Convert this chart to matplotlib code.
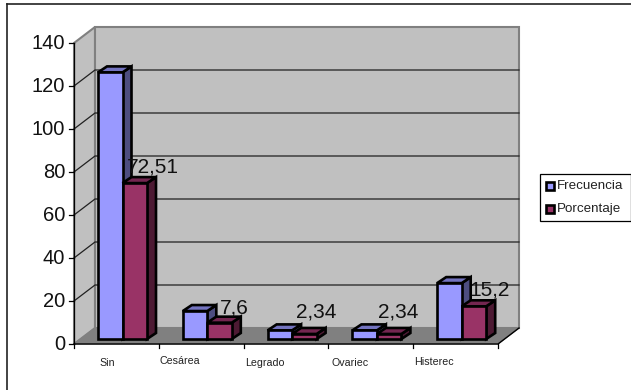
import matplotlib
matplotlib.use('Agg')
import matplotlib.pyplot as plt
from matplotlib.patches import Polygon, Rectangle

plt.rcParams['font.family'] = ['Liberation Sans', 'DejaVu Sans']

categories = ['Sin', 'Cesárea', 'Legrado', 'Ovariec', 'Histerec']
frecuencia = [124, 13, 4, 4, 26]
porcentaje = [72.51, 7.6, 2.34, 2.34, 15.2]
etiquetas = ['72,51', '7,6', '2,34', '2,34', '15,2']
yticks = [0, 20, 40, 60, 80, 100, 120, 140]

W, H = 631, 390
fig = plt.figure(figsize=(W / 100, H / 100), dpi=100)
ax = fig.add_axes([74 / W, 1 - 344 / H, 424 / W, 301 / H])
ax.set_xlim(0, 5)
ax.set_ylim(0, 140)
ax.axis('off')

# pixel sizes turned into data units
px = 5 / 424
py = 140 / 301
DX, DY = 21 * px, 16 * py   # depth of the whole chart box
bx, by = 9 * px, 6 * py     # depth of a bar
off_x, off_y = 24 * px, 5 * py
bar_w = 24.5 * px


def poly(pts, fc, ec='black', lw=0.8, z=1):
    ax.add_patch(Polygon(pts, closed=True, facecolor=fc, edgecolor=ec, linewidth=lw,
                         zorder=z, clip_on=False, joinstyle='miter'))


# walls and floor
poly([(0, 0), (DX, DY), (DX, 140 + DY), (0, 140)], '#c0c0c0', '#808080', 1.5)
poly([(DX, DY), (5 + DX, DY), (5 + DX, 140 + DY), (DX, 140 + DY)], '#c0c0c0', '#808080', 1.5)
poly([(0, 0), (DX, DY), (5 + DX, DY), (5, 0)], '#808080', '#808080', 0.8)

# gridlines
for v in yticks[1:-1]:
    ax.plot([0, DX, 5 + DX], [v, v + DY, v + DY], color='#202020', lw=0.9, zorder=2, clip_on=False)

# axes and ticks
ax.plot([0, 0], [0, 140], color='black', lw=0.9, zorder=2, clip_on=False)
ax.plot([0, 5, 5 + DX], [0, 0, DY], color='black', lw=1.0, zorder=2, clip_on=False)
for v in yticks:
    ax.plot([-5 * px, 0], [v, v], color='black', lw=0.9, clip_on=False)
    ax.text(-9 * px, v - 0.7 * py, str(v), ha='right', va='center', fontsize=14.5, color='#111111')
for i in range(6):
    ax.plot([i, i], [0, -4 * py], color='black', lw=0.9, clip_on=False)

label_x = [0.39, 1.25, 2.25, 3.25, 4.25]
label_dy = [18.5, 16.5, 18.5, 18.5, 18]
for i, c in enumerate(categories):
    ax.text(label_x[i], -label_dy[i] * py, c, ha='center', va='center',
            fontsize=7.7, color='#222222')


def bar(x, v, fc, side, top, z):
    y0 = off_y
    y1 = off_y + v
    w = bar_w
    poly([(x + w, y0), (x + w + bx, y0 + by), (x + w + bx, y1 + by), (x + w, y1)], side, lw=1.9, z=z)
    poly([(x, y1), (x + bx, y1 + by), (x + w + bx, y1 + by), (x + w, y1)], top, lw=1.9, z=z)
    poly([(x, y0), (x + w, y0), (x + w, y1), (x, y1)], fc, lw=1.9, z=z)


# where each data label sits relative to its bar, in pixels
label_right = [18, 15, 12, 9, 16]
label_up = [16, 15, 22, 22, 16]
for i in range(len(categories)):
    x = i + off_x
    bar(x, frecuencia[i], '#9999ff', '#4d4d80', '#7373bf', 3 + i)
    bar(x + bar_w, porcentaje[i], '#993366', '#4d1a33', '#732650', 3.5 + i)
    ax.text(x + 1.5 * bar_w + label_right[i] * px, porcentaje[i] + off_y + label_up[i] * py, etiquetas[i],
            ha='center', va='center', fontsize=15, color='#111111', zorder=10, clip_on=False)

# legend
fig.patches.append(Rectangle((540 / W, 1 - 221 / H), 91 / W, 47 / H, transform=fig.transFigure,
                             facecolor='white', edgecolor='black', linewidth=0.9))
for name, col, yy in [('Frecuencia', '#9999ff', 186), ('Porcentaje', '#993366', 209)]:
    fig.patches.append(Rectangle((546 / W, 1 - (yy + 4) / H), 8 / W, 8 / H, transform=fig.transFigure,
                                 facecolor=col, edgecolor='black', linewidth=1.9))
    fig.text(557 / W, 1 - yy / H, name, ha='left', va='center', fontsize=9.6, color='#222222')

# outer frame (top and left only show in the picture)
fig.add_artist(plt.Line2D([7 / W, 7 / W], [0, 1 - 3.5 / H], color='#222222', lw=1.2))
fig.add_artist(plt.Line2D([7 / W, 1], [1 - 3.5 / H, 1 - 3.5 / H], color='#222222', lw=1.2))

fig.savefig('out.png', dpi=100)
